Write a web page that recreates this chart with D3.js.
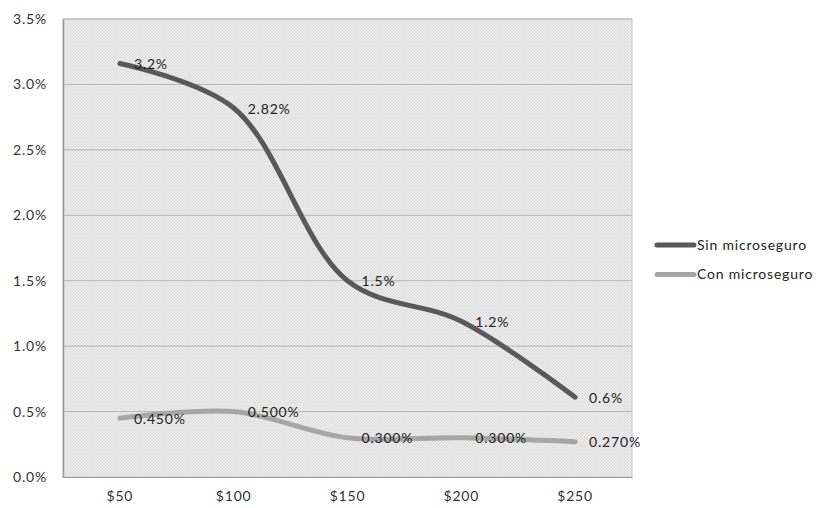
<!DOCTYPE html>
<html><head><meta charset="utf-8">
<script src="https://cdn.jsdelivr.net/npm/d3@7"></script>
<style>
body{margin:0;background:#fff;}
svg{display:block;font-family:Lato,"Open Sans",sans-serif;}
svg text{letter-spacing:0.8px;}
</style></head>
<body><svg id="c" width="819" height="508"></svg>
<script>
const categories = ["$50","$100","$150","$200","$250"];
const sinValues = [3.16, 2.82, 1.5, 1.19, 0.61];
const conValues = [0.45, 0.5, 0.3, 0.3, 0.27];
const sinLabels = ["3.2%","2.82%","1.5%","1.2%","0.6%"];
const conLabels = ["0.450%","0.500%","0.300%","0.300%","0.270%"];
const yTicks = [0,0.5,1,1.5,2,2.5,3,3.5];
const seriesNames = ["Sin microseguro","Con microseguro"];

const svg = d3.select("#c");
const L=63, R=632, T=19, B=477;
const FS = 14;
const x = d3.scaleBand().domain(categories).range([L,R]);
const y = d3.scaleLinear().domain([0,3.5]).range([B,T]);

const defs = svg.append("defs");
const pat = defs.append("pattern").attr("id","dots").attr("width",3).attr("height",3).attr("patternUnits","userSpaceOnUse");
pat.append("rect").attr("width",3).attr("height",3).attr("fill","#e9e9e9");
pat.append("rect").attr("width",1).attr("height",1).attr("fill","#dcdcdc");
pat.append("rect").attr("x",1.5).attr("y",1.5).attr("width",1).attr("height",1).attr("fill","#dcdcdc");

svg.append("rect").attr("x",L).attr("y",T).attr("width",R-L).attr("height",B-T)
  .attr("fill","url(#dots)").attr("stroke","#c8c8c8");

// gridlines
svg.append("g").selectAll("line").data(yTicks.filter(d=>d>0)).join("line")
  .attr("x1",L).attr("x2",R).attr("y1",d=>y(d)).attr("y2",d=>y(d))
  .attr("stroke","#b5b5b5").attr("stroke-width",1);

// y axis
const ya = svg.append("g").attr("transform",`translate(${L},0)`)
  .call(d3.axisLeft(y).tickValues(yTicks).tickFormat(d=>d.toFixed(1)+"%").tickSize(0).tickPadding(16));
ya.select(".domain").attr("stroke","#9a9a9a").attr("stroke-width",1.5);
ya.selectAll("text").attr("font-size",FS).attr("fill","#333").attr("font-family","Lato,'Open Sans',sans-serif");

// x axis
const xa = svg.append("g").attr("transform",`translate(0,${B})`)
  .call(d3.axisBottom(x).tickSize(0).tickPadding(14));
xa.select(".domain").attr("stroke","#9a9a9a").attr("stroke-width",1.2);
xa.selectAll("text").attr("font-size",FS).attr("fill","#333").attr("font-family","Lato,'Open Sans',sans-serif");

const cx = d => x(d)+x.bandwidth()/2;
const line = d3.line().x((d,i)=>cx(categories[i])).y(d=>y(d)).curve(d3.curveCatmullRom.alpha(0.5));

const series = [
  {vals:sinValues, labels:sinLabels, color:"#595959"},
  {vals:conValues, labels:conLabels, color:"#a6a6a6"}
];
series.forEach(s=>{
  svg.append("path").attr("d",line(s.vals)).attr("fill","none")
    .attr("stroke",s.color).attr("stroke-width",5).attr("stroke-linecap","round");
});
series.forEach(s=>{
  svg.append("g").selectAll("text").data(s.vals).join("text")
    .attr("x",(d,i)=>cx(categories[i])+14).attr("y",d=>y(d)+2)
    .attr("dominant-baseline","middle").attr("font-size",FS).attr("fill","#222")
    .text((d,i)=>s.labels[i]);
});

// legend
const lg = svg.append("g");
series.forEach((s,i)=>{
  const yy = 245 + i*29.5;
  lg.append("line").attr("x1",657).attr("x2",694).attr("y1",yy).attr("y2",yy)
    .attr("stroke",s.color).attr("stroke-width",5).attr("stroke-linecap","round");
  lg.append("text").attr("x",697).attr("y",yy+1).attr("dominant-baseline","middle")
    .attr("font-size",FS).attr("fill","#222").text(seriesNames[i]);
});
</script></body></html>
